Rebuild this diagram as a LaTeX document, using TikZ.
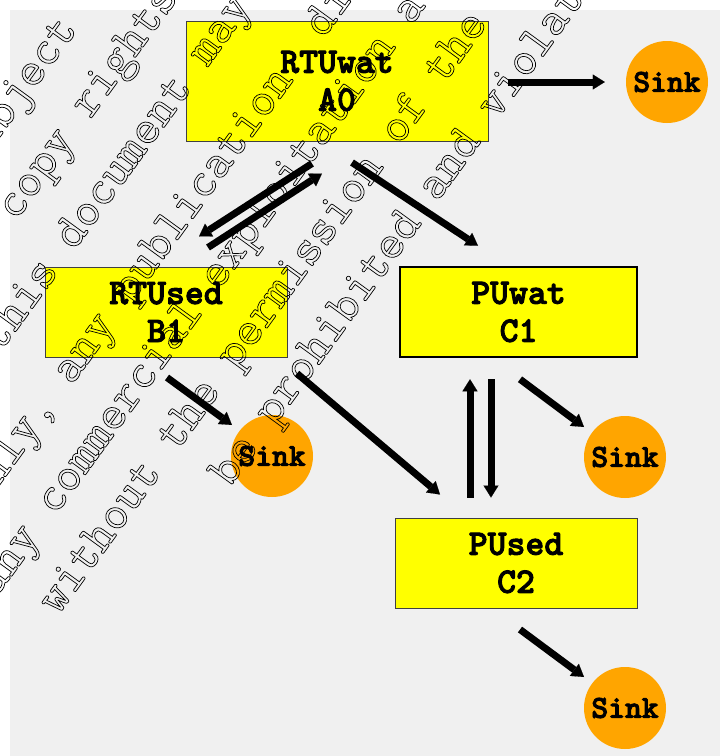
\documentclass[tikz,border=0pt]{standalone}
\usepackage{fontspec}
\usetikzlibrary{arrows.meta,calc}

\definecolor{panel}{HTML}{F0F0F0}
\definecolor{boxfill}{HTML}{FFFF00}
\definecolor{boxedge}{HTML}{404040}
\definecolor{sinkfill}{HTML}{FFA500}

% fonts
\newcommand\lblfont{\ttfamily\bfseries\fontsize{36}{38}\selectfont}
\newcommand\sinkfont{\ttfamily\bfseries\fontsize{32}{34}\selectfont}
\newcommand\wmfont{\ttfamily\fontsize{49}{49}\selectfont}

% outlined (stroked, unfilled) glyphs
\newcommand\hollow[1]{\special{pdf:literal direct 1 Tr 0.7 w}#1\special{pdf:literal direct 0 Tr}}
% heavier glyphs (filled and stroked)
\newcommand\heavy[1]{\special{pdf:literal direct 2 Tr 0.9 w}#1\special{pdf:literal direct 0 Tr}}

\begin{document}
\begin{tikzpicture}[x=1pt,y=-1pt,
  state/.style={draw=boxedge, line width=1pt, fill=boxfill, inner sep=0pt,
                align=center, font=\lblfont, minimum height=90pt},
  sink/.style={circle, fill=sinkfill, minimum size=82pt, inner sep=0pt, font=\sinkfont},
  flow/.style={line width=7pt, -{Triangle[width=15pt,length=12pt,line width=0.1pt]}},
  wm/.style={rotate=54, anchor=base west, inner sep=0pt, font=\wmfont}]

\useasboundingbox (0,0) rectangle (720,756);
\fill[panel] (10,10) rectangle (720,756);

% states
\node[state, minimum width=302pt, minimum height=120pt] (A0) at (337,81) {\heavy{RTUwat\\A0}};
\node[state, minimum width=242pt] (B1) at (166,312) {\heavy{RTUsed\\B1}};
\node[state, minimum width=237pt, draw=black, line width=2.5pt] (C1) at (518.5,312) {\heavy{PUwat\\C1}};
\node[state, minimum width=242pt] (C2) at (516,563) {\heavy{PUsed\\C2}};

% sinks
\node[sink] (S1) at (667,82) {\heavy{Sink}};
\node[sink] (S2) at (272,456) {\heavy{Sink}};
\node[sink] (S3) at (625,457) {\heavy{Sink}};
\node[sink] (S4) at (625,708) {\heavy{Sink}};

% diagonal notice lines, clipped to the page
\begin{scope}
  \clip (0,0) rectangle (720,756);
  \node[wm] (wm1) at (-25.7,172.6) {\hollow{subject}};
  \node[wm] (wm2) at (16,222)      {\hollow{copy rights}};
  \node[wm] (wm3) at (0,353.4)     {\hollow{this document may}};
  \node[wm] (wm4) at (-17.4,508.6) {\hollow{only, any publication\hspace{25pt} distribution}};
  \node[wm] (wm5) at (-4,598)      {\hollow{any commercial exploitation a}};
  \node[wm] (wm6) at (58,616)      {\hollow{without the permission of the}};
  \node[wm] (wm7) at (229.5,488.5) {\hollow{be prohibited and violation}};
\end{scope}

% transitions
\draw[flow] ($(A0.east)+(19,1)$) -- ($(S1.west)+(-21,0)$);
\draw[flow] ($(A0.south)+(-25,22)$) -- ($(B1.north)+(33,-30)$);
\draw[flow] ($(B1.north)+(42,-19)$) -- ($(A0.south)+(-15,32)$);
\draw[flow] ($(A0.south)+(15,21)$) -- ($(C1.north)+(-40.5,-20)$);
\draw[flow] ($(B1.south)+(1,20)$) -- ($(S2)+(-40,-31)$);
\draw[flow] ($(B1.south)+(131,16)$) -- ($(C2.north)+(-76,-23)$);
\draw[flow] ($(C2.north)+(-46,-20)$) -- ($(C1.south)+(-48.5,21)$);
\draw[flow] ($(C1.south)+(-27.5,21)$) -- ($(C2.north)+(-25,-20)$);
\draw[flow] ($(C1.south)+(1.5,21)$) -- ($(S3)+(-41,-30)$);
\draw[flow] ($(C2.south)+(4,21)$) -- ($(S4)+(-41,-31)$);
\end{tikzpicture}
\end{document}
